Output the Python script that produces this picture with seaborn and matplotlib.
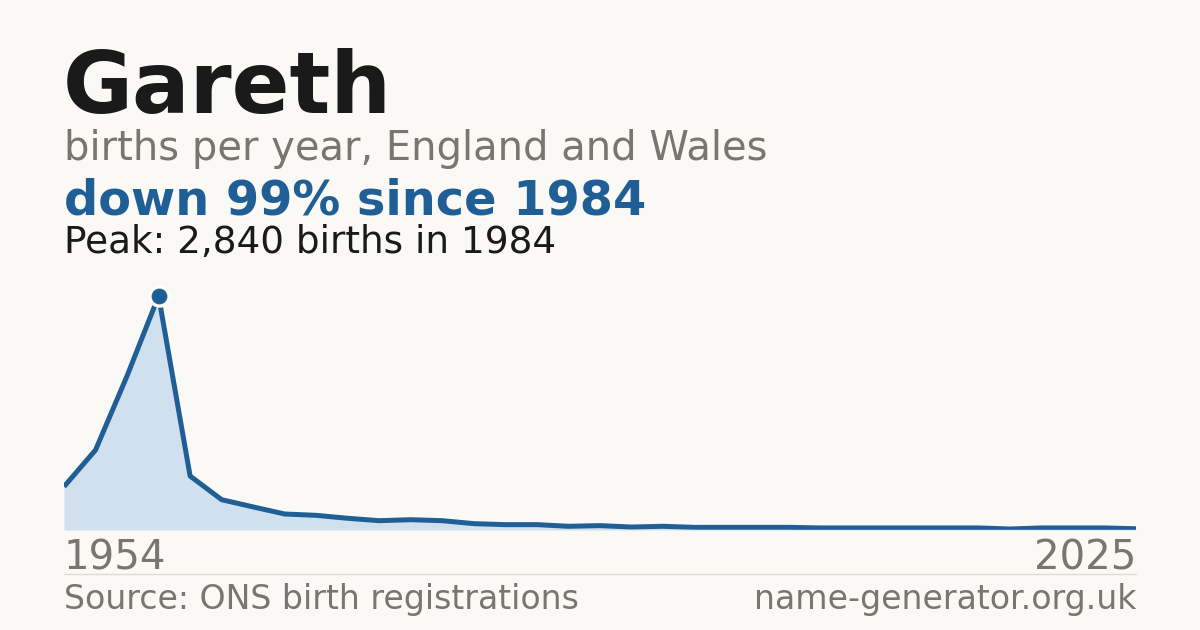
import matplotlib
matplotlib.use("Agg")
import matplotlib.pyplot as plt
import seaborn as sns
import pandas as pd

# ---- data ----
years = [1954, 1964, 1974, 1984, 1994, 1996, 1997, 1998, 1999, 2000,
         2001, 2002, 2003, 2004, 2005, 2006, 2007, 2008, 2009, 2010,
         2011, 2012, 2013, 2014, 2015, 2016, 2017, 2018, 2019, 2020,
         2021, 2022, 2023, 2024, 2025]
births = [526, 971, 1870, 2840, 655, 368, 280, 194, 178, 142,
          113, 125, 113, 77, 65, 65, 45, 53, 36, 45,
          32, 32, 32, 32, 25, 25, 25, 25, 25, 25,
          12, 25, 25, 25, 15]
name = "Gareth"
subtitle = "births per year, England and Wales"
headline = "down 99% since 1984"
peak_text = "Peak: 2,840 births in 1984"
first_label = "1954"
last_label = "2025"
source_text = "Source: ONS birth registrations"
site_text = "name-generator.org.uk"

BG = "#faf9f5"
BLUE = "#1f5f96"
FILL = "#d0e0ef"
GRAY = "#7a756e"
DARK = "#1a1a1a"

sns.set_theme(style="white")
plt.rcParams["font.family"] = ["DejaVu Sans"]

W, H = 1200, 630
fig = plt.figure(figsize=(W / 100, H / 100), dpi=100, facecolor=BG)

df = pd.DataFrame({"idx": list(range(len(years))), "year": years, "births": births})

# axes: x from 64 to 1136 px, baseline at y=530, top at 280
left, right = 64, 1136
base, top = 530, 280
ax = fig.add_axes([left / W, (H - base) / H, (right - left) / W, (base - top) / H])
ax.set_facecolor("none")
peak_val = max(births)
ymax = peak_val * (base - top) / (base - 296)
ax.set_xlim(0, len(years) - 1)
ax.set_ylim(0, ymax)

ax.fill_between(df["idx"], 0, df["births"], color=FILL, linewidth=0, zorder=1)
sns.lineplot(data=df, x="idx", y="births", ax=ax, color=BLUE, linewidth=3.6,
             solid_joinstyle="round", solid_capstyle="butt", zorder=2, legend=False)
pk = df.loc[df["births"].idxmax()]
ax.scatter([pk["idx"]], [pk["births"]], s=190, color=BLUE, edgecolor="white",
           linewidth=2.4, zorder=4, clip_on=False)
ax.axhline(0, color="#dedbd5", linewidth=1, zorder=3)

for s in ax.spines.values():
    s.set_visible(False)
ax.set_xticks([])
ax.set_yticks([])
ax.set_xlabel("")
ax.set_ylabel("")

def fy(y):
    return (H - y) / H

def fx(x):
    return x / W

fig.text(fx(63), fy(112.7), name, fontsize=61.5, fontweight="bold", color=DARK, va="baseline", ha="left")
fig.text(fx(64), fy(160), subtitle, fontsize=28.8, color=GRAY, va="baseline", ha="left")
fig.text(fx(64), fy(214.3), headline, fontsize=34.5, fontweight="bold", color=BLUE, va="baseline", ha="left")
fig.text(fx(64), fy(253.3), peak_text, fontsize=26.9, color=DARK, va="baseline", ha="left")

fig.text(fx(64), fy(570), first_label, fontsize=29, color=GRAY, va="baseline", ha="left")
fig.text(fx(1136), fy(570), last_label, fontsize=29, color=GRAY, va="baseline", ha="right")

fig.add_artist(plt.Line2D([fx(64), fx(1136)], [fy(574), fy(574)], color="#dedbd5", linewidth=1))

fig.text(fx(64), fy(609.3), source_text, fontsize=23.9, color=GRAY, va="baseline", ha="left")
fig.text(fx(1136), fy(609.3), site_text, fontsize=23.9, color=GRAY, va="baseline", ha="right")

fig.savefig("out.png", dpi=100, facecolor=BG)
